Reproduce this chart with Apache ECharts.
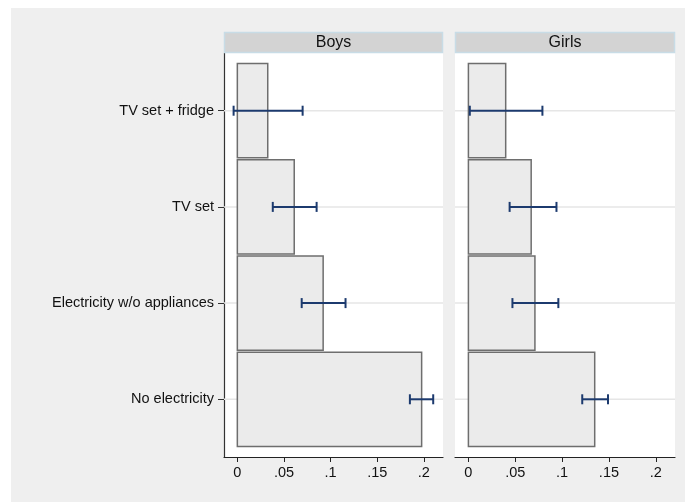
<!DOCTYPE html>
<html><head><meta charset="utf-8">
<script src="https://cdn.jsdelivr.net/npm/echarts@6/dist/echarts.min.js"></script>
<style>html,body{margin:0;padding:0;background:#fff}#c{width:685px;height:502px}</style>
</head><body><div id="c"></div>
<script>
const categories = ["TV set + fridge", "TV set", "Electricity w/o appliances", "No electricity"];
const panels = ["Boys", "Girls"];
const boysMean = [0.0326, 0.061, 0.092, 0.1976];
const boysLow  = [-0.004, 0.038, 0.069, 0.185];
const boysHigh = [0.070, 0.085, 0.116, 0.210];
const girlsMean = [0.0398, 0.067, 0.071, 0.1348];
const girlsLow  = [0.0015, 0.044, 0.047, 0.1215];
const girlsHigh = [0.079, 0.094, 0.096, 0.149];
const xTicks = [0, 0.05, 0.1, 0.15, 0.2];
const xTickLabels = ["0", ".05", ".1", ".15", ".2"];

const XMIN = -0.0143, XMAX = 0.2205, YMIN = 0.4, YMAX = 4.6;
const FONT = "Liberation Sans, Arial, Helvetica, sans-serif";

function barData(means){ return means.map((v,i)=>[v, i+1]); }
function errData(lo,hi){ return lo.map((v,i)=>[v, hi[i], i+1]); }

function xAxis(gi){
  return {
    type:'value', gridIndex:gi, min:XMIN, max:XMAX,
    axisLine:{show:true, onZero:false, lineStyle:{color:'#222', width:1.2}},
    axisTick:{show:true, length:5, customValues:xTicks, lineStyle:{color:'#222'}},
    axisLabel:{customValues:xTicks, color:'#111', fontSize:14.5, fontFamily:FONT, margin:8,
      formatter:v=>{const i=xTicks.findIndex(t=>Math.abs(t-v)<1e-9);return i>=0?xTickLabels[i]:'';}},
    splitLine:{show:false}
  };
}
function yAxis(gi, show){
  return {
    type:'value', gridIndex:gi, min:YMIN, max:YMAX, inverse:true,
    axisLine:{show:show, onZero:false, lineStyle:{color:'#333', width:1.2}},
    axisTick:{show:show, length:6, customValues:[1,2,3,4], lineStyle:{color:'#333'}},
    axisLabel:{show:show, customValues:[1,2,3,4], color:'#111', fontSize:14.5, fontFamily:FONT, margin:10,
      formatter:v=>categories[Math.round(v)-1]||''},
    splitLine:{show:false}
  };
}

function gridSeries(gi){
  return {type:'custom', xAxisIndex:gi, yAxisIndex:gi, silent:true, z:1,
    data:categories.map((c,i)=>[i+1]),
    renderItem:(p,api)=>{
      const a=api.coord([XMIN, api.value(0)]), b=api.coord([XMAX, api.value(0)]);
      return {type:'line', shape:{x1:a[0],y1:a[1],x2:b[0],y2:b[1]}, style:{stroke:'#e6e6e6', lineWidth:1.5}};
    }};
}
function barSeries(gi, means){
  return {type:'custom', xAxisIndex:gi, yAxisIndex:gi, silent:true, z:2,
    data:barData(means),
    renderItem:(p,api)=>{
      const a=api.coord([0, api.value(1)-0.49]), b=api.coord([api.value(0), api.value(1)+0.49]);
      return {type:'rect', shape:{x:a[0], y:Math.min(a[1],b[1]), width:b[0]-a[0], height:Math.abs(b[1]-a[1])},
        style:{fill:'#ebebeb', stroke:'#6e6e6e', lineWidth:1.5}};
    }};
}
function errSeries(gi, lo, hi){
  return {type:'custom', xAxisIndex:gi, yAxisIndex:gi, silent:true, z:3,
    data:errData(lo,hi),
    renderItem:(p,api)=>{
      const a=api.coord([api.value(0), api.value(2)]), b=api.coord([api.value(1), api.value(2)]);
      const st={stroke:'#1c3a6e', lineWidth:2};
      return {type:'group', children:[
        {type:'line', shape:{x1:a[0],y1:a[1],x2:b[0],y2:b[1]}, style:st},
        {type:'line', shape:{x1:a[0],y1:a[1]-5,x2:a[0],y2:a[1]+5}, style:st},
        {type:'line', shape:{x1:b[0],y1:b[1]-5,x2:b[0],y2:b[1]+5}, style:st}
      ]};
    }};
}

const grids = [
  {left:224, top:53, width:219, height:404},
  {left:455, top:53, width:220, height:404}
];

const chart = echarts.init(document.getElementById('c'), null, {renderer:'canvas'});
const graphic = [
  {type:'rect', left:11, top:8, shape:{width:674, height:494}, style:{fill:'#efefef'}, z:-10, silent:true}
];
grids.forEach((g,i)=>{
  graphic.push({type:'rect', z:-5, silent:true, shape:{x:g.left, y:g.top, width:g.width, height:g.height}, style:{fill:'#fff'}});
  graphic.push({type:'rect', z:5, silent:true, shape:{x:g.left+0.5, y:32.5, width:g.width-1, height:20}, style:{fill:'#d3d3d3', stroke:'#c8dce6', lineWidth:1.5}});
  graphic.push({type:'text', z:6, silent:true, x:g.left+g.width/2, y:43, style:{text:panels[i], fill:'#111', font:'16px '+FONT, align:'center', verticalAlign:'middle'}});
});

chart.setOption({
  animation:false,
  backgroundColor:'#fff',
  graphic:graphic,
  grid:grids,
  xAxis:[xAxis(0), xAxis(1)],
  yAxis:[yAxis(0,true), yAxis(1,false)],
  series:[
    gridSeries(0), barSeries(0,boysMean), errSeries(0,boysLow,boysHigh),
    gridSeries(1), barSeries(1,girlsMean), errSeries(1,girlsLow,girlsHigh)
  ]
});
</script></body></html>
